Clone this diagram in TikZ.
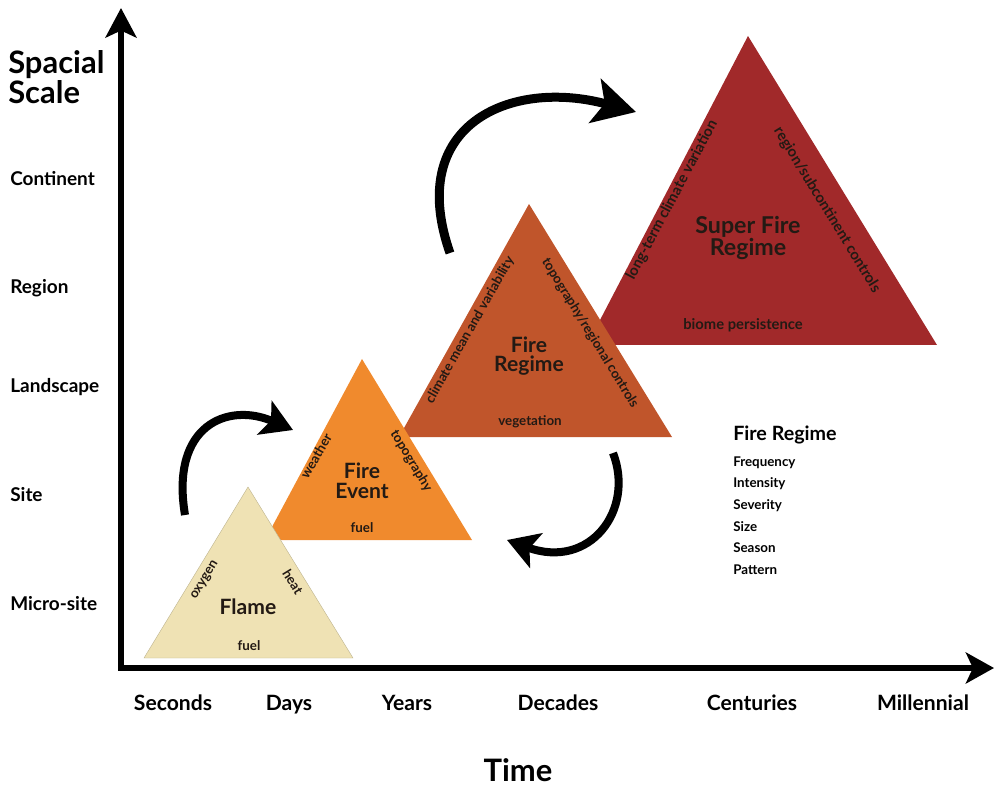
\documentclass[tikz,border=0pt]{standalone}
\usepackage{fontspec}
\setmainfont{Lato}
\usetikzlibrary{arrows.meta}

\definecolor{flamecol}{HTML}{EFE2B4}
\definecolor{eventcol}{HTML}{F08A2D}
\definecolor{regimecol}{HTML}{C0552B}
\definecolor{supercol}{HTML}{A1292A}
\definecolor{ink}{HTML}{231A14}

\tikzstyle{scalelabel} = [font=\fontsize{13.5}{16}\selectfont\bfseries, anchor=west, inner sep=0pt]
\tikzstyle{timelabel} = [font=\fontsize{15}{18}\selectfont\bfseries, anchor=base, inner sep=0pt]
\tikzstyle{title} = [font=\fontsize{15}{14}\selectfont\bfseries, text=ink, align=center, inner sep=0pt]
\tikzstyle{side} = [font=\fontsize{9.5}{11}\selectfont\bfseries, text=ink, inner sep=0pt]
\tikzstyle{bigside} = [font=\fontsize{10.5}{12}\selectfont\bfseries, text=ink, inner sep=0pt]
\tikzstyle{item} = [font=\fontsize{9.5}{11}\selectfont\bfseries, anchor=west, inner sep=0pt]
\tikzstyle{axis} = [line width=4.3pt, line join=miter, {Stealth[length=21pt,width=22pt,inset=5pt]}-{Stealth[length=20pt,width=22pt,inset=5pt]}]
\tikzstyle{swirl} = [line width=5.7pt, -{Stealth[length=22pt,width=26pt,inset=5pt]}]
\tikzstyle{bigswirl} = [line width=6.4pt, -{Stealth[length=30pt,width=32pt,inset=7pt]}]

\begin{document}
\begin{tikzpicture}[x=0.025cm, y=-0.025cm]
      \useasboundingbox (0,0) rectangle (994,787);

      % triangles, back to front
      \fill[supercol] (748,36) -- (937,345) -- (587,345) -- cycle;
      \fill[regimecol] (529,204) -- (672,437) -- (399,437) -- cycle;
      \fill[eventcol] (362,359) -- (472,540) -- (265,540) -- cycle;
      \filldraw[fill=flamecol, draw=flamecol!80!black, line width=0.3pt] (248,487) -- (353,658) -- (144,658) -- cycle;

      % axes
      \coordinate (ytop) at (121,8);
      \coordinate (origin) at (121,668);
      \coordinate (xend) at (994,668);
      \draw [axis] (ytop) -- (origin) -- (xend);

      \node (spacial) [font=\fontsize{22}{18.5}\selectfont\bfseries, align=left, anchor=west, inner sep=0pt] at (8,77) {Spacial\\Scale};
      \node (cont) [scalelabel] at (10,179) {Continent};
      \node (reg) [scalelabel] at (10,288) {Region};
      \node (land) [scalelabel] at (10,387) {Landscape};
      \node (site) [scalelabel] at (10,495) {Site};
      \node (micro) [scalelabel] at (10,604) {Micro-site};

      \node (sec) [timelabel] at (173,710) {Seconds};
      \node (days) [timelabel] at (289,710) {Days};
      \node (years) [timelabel] at (407,710) {Years};
      \node (dec) [timelabel] at (558,710) {Decades};
      \node (cent) [timelabel] at (752,710) {Centuries};
      \node (mill) [timelabel] at (923,710) {Millennial};
      \node (time) [font=\fontsize{22}{26}\selectfont\bfseries, inner sep=0pt] at (518,770) {Time};

      % flame
      \node (flame) [title] at (248,607) {Flame};
      \node (oxy) [side, rotate=58.5] at (205,580) {oxygen};
      \node (heat) [side, rotate=-58.5] at (293,582) {heat};
      \node (ffuel) [side] at (249,646) {fuel};

      % fire event
      \node (event) [title] at (362,481) {Fire\\Event};
      \node (weather) [side, rotate=60] at (316,456) {weather};
      \node (etopo) [side, rotate=-59] at (411,461) {topography};
      \node (efuel) [side] at (362,528) {fuel};

      % fire regime
      \node (regime) [title] at (529,356) {Fire\\Regime};
      \node (climate) [side, rotate=60.5] at (470,330) {climate mean and variability};
      \node (rtopo) [side, rotate=-58.5] at (590,333) {topography/regional controls};
      \node (veg) [side] at (530,422) {vegetation};

      % super fire regime
      \node (super) [title, font=\fontsize{16.5}{16}\selectfont\bfseries] at (748,238) {Super Fire\\Regime};
      \node (longterm) [bigside, rotate=62] at (672,200) {long-term climate variation};
      \node (subcont) [bigside, rotate=-58.5] at (827,210) {region/subcontinent controls};
      \node (biome) [bigside] at (743,325) {biome persistence};

      % legend
      \node (legend) [font=\fontsize{14}{16}\selectfont\bfseries, anchor=west, inner sep=0pt] at (733,435) {Fire Regime};
      \node (freq) [item] at (733,463) {Frequency};
      \node (inten) [item] at (733,484) {Intensity};
      \node (sev) [item] at (733,506) {Severity};
      \node (size) [item] at (733,527) {Size};
      \node (season) [item] at (733,548) {Season};
      \node (patt) [item] at (733,570) {Pattern};

      % arrows between the scales
      \coordinate (flameout) at (185,515);
      \coordinate (eventin) at (293,430);
      \coordinate (regimeout) at (450,253);
      \coordinate (superin) at (636,112);
      \coordinate (regimedown) at (613,453);
      \coordinate (eventback) at (507,540);
      \draw [swirl] (flameout) .. controls (170,425) and (228,402) .. (eventin);
      \draw [bigswirl] (regimeout) .. controls (405,125) and (510,78) .. (superin);
      \draw [swirl] (regimedown) .. controls (635,510) and (590,570) .. (eventback);
    \end{tikzpicture}
\end{document}
